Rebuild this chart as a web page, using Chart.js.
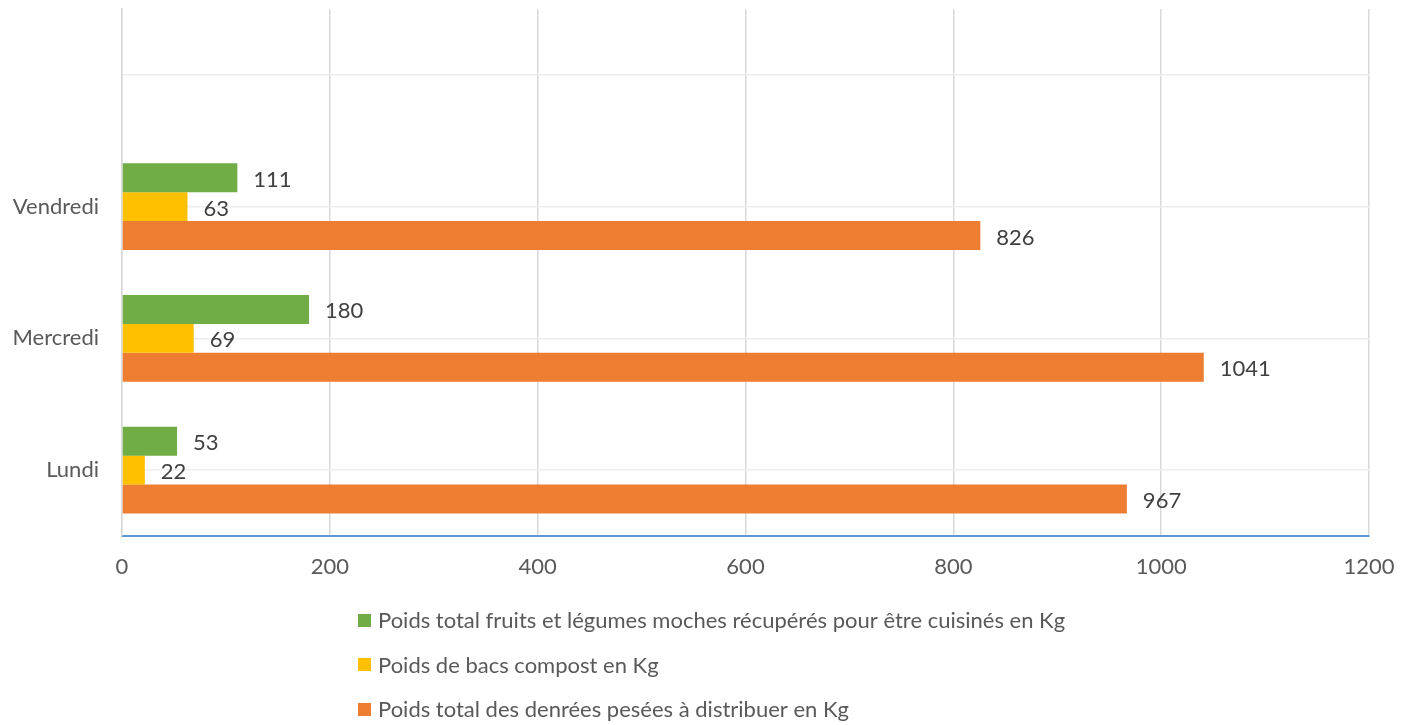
<!DOCTYPE html>
<html>
<head>
<meta charset="utf-8">
<script src="https://cdn.jsdelivr.net/npm/chart.js@4.4.1/dist/chart.umd.min.js"></script>
<style>
  html, body { margin: 0; padding: 0; background: #fff; }
  #wrap { width: 1412px; height: 725px; position: relative; }
</style>
</head>
<body>
<div id="wrap"><canvas id="chart"></canvas></div>
<script>
// categories, bottom to top (the top slot stays empty)
const days = ['Lundi', 'Mercredi', 'Vendredi', ''];

const seriesNames = [
  'Poids total fruits et légumes moches récupérés pour être cuisinés en Kg',
  'Poids de bacs compost en Kg',
  'Poids total des denrées pesées à distribuer en Kg'
];

const fruitsLegumes = [53, 180, 111];
const bacsCompost = [22, 69, 63];
const denrees = [967, 1041, 826];

const xMin = 0;
const xMax = 1200;
const xStep = 200;

const colors = ['#70ad47', '#ffc000', '#ed7d31'];

const FONT = '22px Lato, "Open Sans", sans-serif';
Chart.defaults.font.family = 'Lato, "Open Sans", sans-serif';
Chart.defaults.font.size = 22;
Chart.defaults.color = '#595959';

// value written just after the end of each bar
const barValues = {
  id: 'barValues',
  afterDatasetsDraw(chart) {
    const ctx = chart.ctx;
    ctx.save();
    ctx.font = FONT;
    ctx.fillStyle = '#404040';
    ctx.textBaseline = 'middle';
    ctx.textAlign = 'left';
    chart.data.datasets.forEach((ds, i) => {
      const meta = chart.getDatasetMeta(i);
      meta.data.forEach((bar, j) => {
        const v = ds.data[j];
        if (v == null) return;
        ctx.fillText(String(v), bar.x + 16, bar.y + 2);
      });
    });
    ctx.restore();
  }
};

// legend stacked in one column, left aligned, under the axis
const stackedLegend = {
  id: 'stackedLegend',
  afterDraw(chart) {
    const ctx = chart.ctx;
    const sets = chart.data.datasets;
    const box = 13, gap = 7, rowH = 44.5;
    ctx.save();
    ctx.font = FONT;
    const widest = Math.max(...sets.map(d => ctx.measureText(d.label).width)) + box + gap;
    const left = Math.round((chart.width - widest) / 2) + 6;
    const top = chart.chartArea.bottom + 84;
    sets.forEach((d, i) => {
      const y = top + i * rowH;
      ctx.fillStyle = d.backgroundColor;
      ctx.fillRect(left, Math.round(y - box / 2), box, box);
      ctx.fillStyle = '#595959';
      ctx.textBaseline = 'middle';
      ctx.textAlign = 'left';
      ctx.fillText(d.label, left + box + gap, y + 1);
    });
    ctx.restore();
  }
};

new Chart(document.getElementById('chart'), {
  type: 'bar',
  data: {
    labels: days,
    datasets: [
      { label: seriesNames[0], data: fruitsLegumes, backgroundColor: colors[0] },
      { label: seriesNames[1], data: bacsCompost, backgroundColor: colors[1] },
      { label: seriesNames[2], data: denrees, backgroundColor: colors[2] }
    ]
  },
  options: {
    indexAxis: 'y',
    responsive: true,
    maintainAspectRatio: false,
    animation: false,
    datasets: {
      bar: { categoryPercentage: 0.66, barPercentage: 1 }
    },
    layout: {
      padding: { top: 9, right: 43, left: 0, bottom: 139 }
    },
    scales: {
      x: {
        min: xMin,
        max: xMax,
        ticks: {
          stepSize: xStep,
          padding: 18,
          color: '#595959',
          callback: (v) => String(v)
        },
        grid: { color: '#d9d9d9', lineWidth: 1.5, drawTicks: false },
        border: { color: '#5b9bd5', width: 2 },
        afterFit(scale) {
          scale.height = 50;
          scale.paddingLeft = 0;
          scale.paddingRight = 0;
        }
      },
      y: {
        reverse: true,
        ticks: { padding: 23, color: '#595959' },
        grid: { offset: false, color: '#ededed', lineWidth: 1.5, drawTicks: false },
        border: { color: '#d9d9d9', width: 1.5 },
        afterFit(scale) {
          scale.width = 122;
          scale.paddingTop = 0;
          scale.paddingBottom = 0;
        }
      }
    },
    plugins: {
      legend: { display: false },
      tooltip: { enabled: false }
    }
  },
  plugins: [barValues, stackedLegend]
});
</script>
</body>
</html>
